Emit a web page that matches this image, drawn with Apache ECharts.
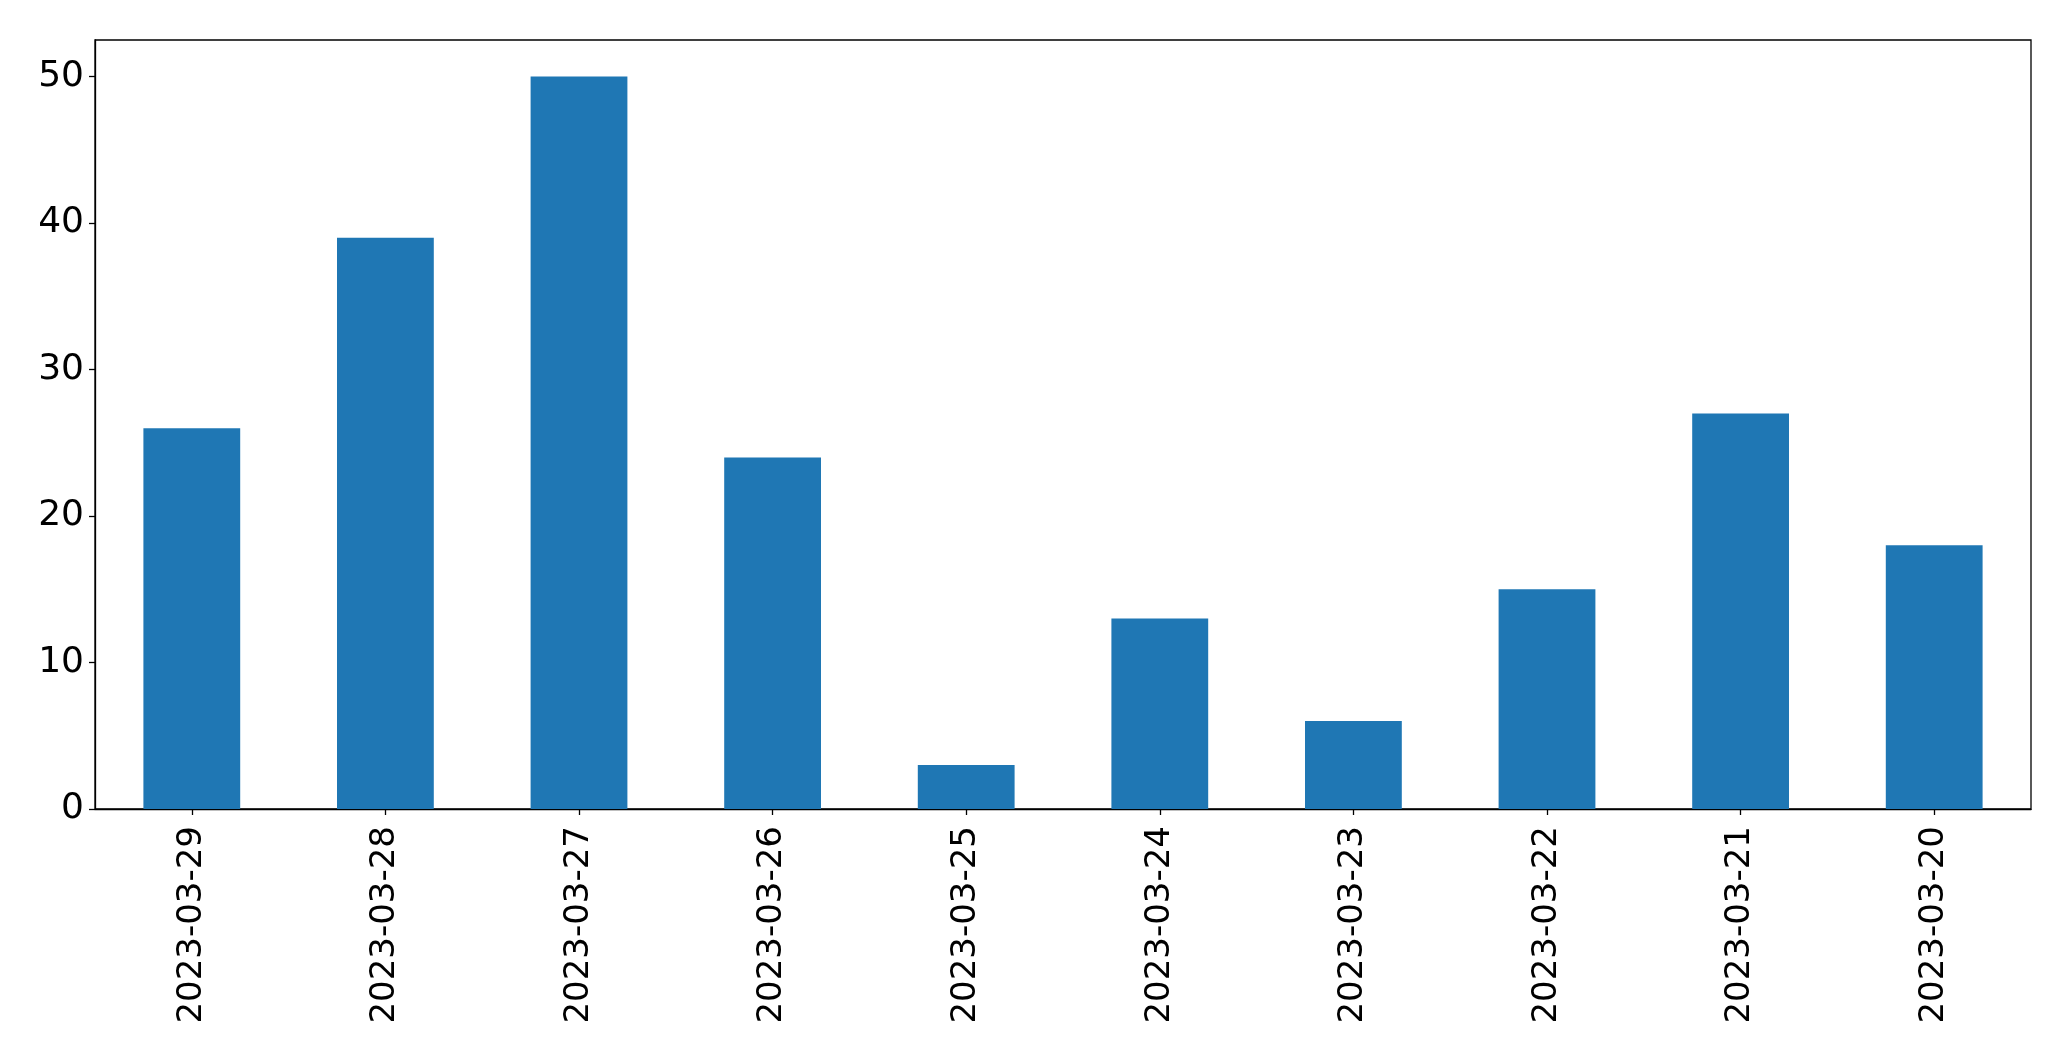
<!DOCTYPE html>
<html>
<head>
<meta charset="utf-8">
<script src="https://cdn.jsdelivr.net/npm/echarts@6/dist/echarts.min.js"></script>
<style>
html,body{margin:0;padding:0;background:#fff;}
#chart{width:2071px;height:1061px;}
</style>
</head>
<body>
<div id="chart"></div>
<script>
const categories = ["2023-03-29","2023-03-28","2023-03-27","2023-03-26","2023-03-25","2023-03-24","2023-03-23","2023-03-22","2023-03-21","2023-03-20"];
const values = [26, 39, 50, 24, 3, 13, 6, 15, 27, 18];
const yTicks = [0, 10, 20, 30, 40, 50];

const chart = echarts.init(document.getElementById('chart'), null, {renderer: 'canvas'});
const font = "'DejaVu Sans', sans-serif";
chart.setOption({
  animation: false,
  backgroundColor: '#ffffff',
  grid: {
    left: 95, right: 40, top: 40, bottom: 252,
    show: true, borderColor: '#000', borderWidth: 1.3, backgroundColor: 'transparent'
  },
  xAxis: {
    type: 'category',
    data: categories,
    boundaryGap: true,
    axisLine: {lineStyle: {color: '#000', width: 1.3}},
    axisTick: {show: true, alignWithLabel: true, length: 6, lineStyle: {color: '#000', width: 1.3}},
    axisLabel: {rotate: 90, margin: 17, fontSize: 34, color: '#000', fontFamily: font, interval: 0}
  },
  yAxis: {
    type: 'value',
    min: 0, max: 52.5, interval: 10,
    splitLine: {show: false},
    axisLine: {show: true, lineStyle: {color: '#000', width: 1.3}},
    axisTick: {show: true, length: 6, lineStyle: {color: '#000', width: 1.3}, customValues: yTicks},
    axisLabel: {margin: 11, fontSize: 36, color: '#000', fontFamily: font, customValues: yTicks}
  },
  series: [{
    type: 'bar',
    data: values,
    barWidth: '50%',
    itemStyle: {color: '#1f77b4'}
  }]
});
</script>
</body>
</html>
